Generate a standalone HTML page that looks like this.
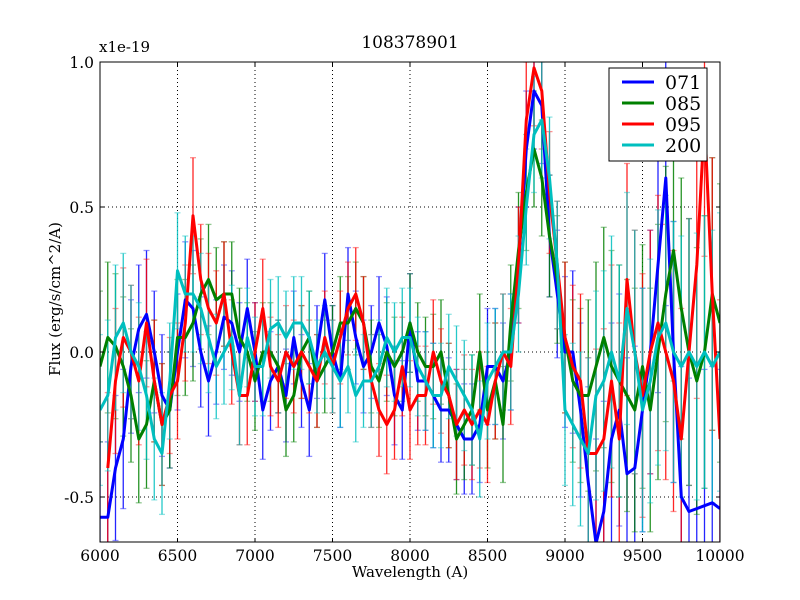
<!DOCTYPE html>
<html><head><meta charset="utf-8"><style>
html,body{margin:0;padding:0;background:#fff;width:800px;height:600px;overflow:hidden;}
#chart{display:block;}
svg text{font-family:"DejaVu Serif","Liberation Serif",serif;}
</style></head><body>
<svg id="chart" width="800" height="600" xmlns="http://www.w3.org/2000/svg">
<rect width="800" height="600" fill="#fff"/>
<g id="grid"></g>
<g id="errs"></g>
<g id="lines"></g>
<g id="axes"></g>
</svg>
<script>
const wavelengths=[];for(let w=6000;w<=10000;w+=50)wavelengths.push(w);
const seriesNames=["071","085","095","200"];
const seriesColors=["#0000ff","#008000","#ff0000","#00bfbf"];
const s071=[-0.57,-0.57,-0.4,-0.3,-0.05,0.08,0.13,0.0,-0.15,-0.2,0.0,0.18,0.15,0.0,-0.1,0.0,0.12,0.1,0.0,0.15,0.0,-0.2,-0.1,-0.05,-0.15,0.05,-0.1,-0.2,0.0,0.18,0.0,-0.1,0.2,0.05,-0.05,0.0,0.1,0.02,-0.15,-0.2,0.1,-0.1,-0.1,-0.15,-0.2,-0.2,-0.25,-0.3,-0.3,-0.25,-0.05,-0.05,-0.1,0.0,0.3,0.7,0.9,0.85,0.4,0.2,0.0,0.0,-0.2,-0.45,-0.66,-0.55,-0.3,-0.2,-0.42,-0.4,-0.2,0.0,0.3,0.6,0.0,-0.5,-0.55,-0.54,-0.53,-0.52,-0.54];
const s085=[-0.05,0.05,0.02,-0.05,-0.15,-0.3,-0.25,-0.1,-0.25,-0.2,0.05,0.05,0.1,0.2,0.25,0.18,0.2,0.2,0.05,0.0,-0.1,0.0,0.0,-0.05,-0.2,-0.15,0.0,0.05,-0.1,-0.05,0.0,0.1,0.1,0.15,0.1,-0.05,-0.1,0.0,-0.05,0.0,0.1,0.0,-0.05,-0.05,0.0,-0.15,-0.3,-0.25,-0.2,0.0,-0.2,-0.1,-0.25,0.1,0.35,0.55,0.7,0.6,0.4,0.25,0.05,-0.1,-0.15,-0.15,-0.05,0.05,-0.05,-0.1,-0.15,-0.2,-0.05,-0.2,0.0,0.2,0.35,0.15,0.0,-0.1,0.0,0.2,0.1];
const s095=[null,-0.4,-0.1,0.05,0.0,-0.1,0.1,-0.1,-0.25,-0.15,-0.1,0.1,0.47,0.25,0.15,0.1,0.2,0.0,-0.15,-0.15,0.0,0.15,-0.05,-0.1,0.0,-0.05,0.0,-0.05,-0.1,0.05,-0.05,0.05,0.15,0.2,0.1,-0.1,-0.2,-0.25,-0.2,-0.05,-0.2,-0.15,-0.15,0.0,-0.1,-0.15,-0.25,-0.2,-0.25,-0.2,-0.25,-0.1,0.0,-0.05,0.3,0.8,0.98,0.9,0.55,0.3,0.05,-0.05,-0.1,-0.35,-0.35,-0.3,-0.1,-0.3,0.25,0.0,-0.15,0.0,0.1,0.0,-0.1,-0.3,0.0,0.3,0.8,0.2,-0.3];
const s200=[-0.2,-0.15,0.05,0.1,0.0,-0.05,-0.15,-0.3,-0.35,-0.1,0.28,0.2,0.2,0.15,0.05,-0.05,0.0,0.05,-0.15,0.05,-0.05,-0.05,0.08,0.1,0.05,0.1,0.1,0.05,-0.05,0.0,-0.05,-0.1,-0.05,-0.15,-0.1,-0.1,-0.05,0.05,0.0,0.05,0.05,-0.05,-0.1,-0.15,-0.15,-0.05,-0.1,-0.15,-0.2,-0.3,-0.1,-0.05,0.0,0.0,0.2,0.5,0.75,0.8,0.6,0.3,-0.2,-0.25,-0.3,-0.35,-0.15,-0.1,0.0,-0.1,0.15,0.0,-0.2,-0.1,0.05,0.1,0.0,-0.05,0.0,-0.05,0.0,-0.05,0.0];
const errSize=[0.26,0.26,0.25,0.24,0.23,0.22,0.22,0.21,0.21,0.2,0.2,0.2,0.2,0.19,0.19,0.18,0.18,0.18,0.17,0.17,0.17,0.17,0.17,0.16,0.16,0.16,0.16,0.16,0.16,0.16,0.16,0.16,0.16,0.16,0.16,0.16,0.16,0.17,0.17,0.17,0.17,0.17,0.17,0.18,0.18,0.18,0.19,0.19,0.19,0.2,0.2,0.2,0.2,0.2,0.2,0.2,0.2,0.2,0.21,0.22,0.26,0.28,0.3,0.33,0.36,0.38,0.4,0.4,0.4,0.42,0.42,0.42,0.44,0.44,0.45,0.45,0.46,0.46,0.47,0.47,0.48];
const seriesData=[s071,s085,s095,s200];
const xTicks=[6000,6500,7000,7500,8000,8500,9000,9500,10000];
const yTicks=[-0.5,0.0,0.5,1.0];
const yTickLabels=["-0.5","0.0","0.5","1.0"];

const L=100,R=720,T=62,B=542;
const xs=v=>L+(v-6000)/4000*(R-L);
const ys=v=>352-v*290;
const cl=y=>Math.max(T,Math.min(B,y));
const NS="http://www.w3.org/2000/svg";
function mk(tag,attrs,parent){const e=document.createElementNS(NS,tag);for(const k in attrs)e.setAttribute(k,attrs[k]);parent.appendChild(e);return e;}
const svg=document.getElementById('chart');
const gGrid=document.getElementById('grid'),gErr=document.getElementById('errs'),gLines=document.getElementById('lines'),gAx=document.getElementById('axes');
const clip=mk('clipPath',{id:'pc'},svg);mk('rect',{x:L,y:T,width:R-L,height:B-T},clip);
gErr.setAttribute('clip-path','url(#pc)');gLines.setAttribute('clip-path','url(#pc)');
xTicks.forEach(t=>{
 if(t>6000&&t<10000){const g=mk('line',{x1:xs(t),x2:xs(t),y1:T,y2:B,stroke:'#000','stroke-dasharray':'1,3'},gGrid);
 }
 const tx=mk('text',{x:xs(t),y:B+19,'text-anchor':'middle','font-size':'15.5'},gAx);tx.textContent=t;
 
 mk('line',{x1:xs(t),x2:xs(t),y1:B,y2:B-4,stroke:'#000'},gAx);mk('line',{x1:xs(t),x2:xs(t),y1:T,y2:T+4,stroke:'#000'},gAx);
});
yTicks.forEach((t,i)=>{
 if(t<1.0){const g=mk('line',{x1:L,x2:R,y1:ys(t),y2:ys(t),stroke:'#000','stroke-dasharray':'1,3'},gGrid);
 }
 const tx=mk('text',{x:L-6,y:ys(t)+6,'text-anchor':'end','font-size':'15.5'},gAx);tx.textContent=yTickLabels[i];
 
 mk('line',{x1:L,x2:L+4,y1:ys(t),y2:ys(t),stroke:'#000'},gAx);mk('line',{x1:R,x2:R-4,y1:ys(t),y2:ys(t),stroke:'#000'},gAx);
});
seriesData.forEach((d,si)=>{
 const c=seriesColors[si];
 d.forEach((v,i)=>{if(v===null)return;const x=xs(wavelengths[i]),e=errSize[i];
  const g=mk('g',{stroke:c,'stroke-width':1.3,opacity:0.85},gErr);
  
  const yt=ys(v+e),yb=ys(v-e);
  mk('line',{x1:x,x2:x,y1:cl(yt),y2:cl(yb)},g);
  if(yt>=T&&yt<=B)mk('line',{x1:x-3,x2:x+3,y1:yt,y2:yt,opacity:0.5},g);
  if(yb>=T&&yb<=B)mk('line',{x1:x-3,x2:x+3,y1:yb,y2:yb,opacity:0.5},g);
 });
});
seriesData.forEach((d,si)=>{
 let p='';d.forEach((v,i)=>{if(v===null)return;p+=(p?'L':'M')+xs(wavelengths[i]).toFixed(1)+','+ys(v).toFixed(1);});
 const pl=mk('path',{d:p,fill:'none',stroke:seriesColors[si],'stroke-width':3,'stroke-linejoin':'round'},gLines);
 
});
const fr=mk('rect',{x:L,y:T,width:R-L,height:B-T,fill:'none',stroke:'#000','stroke-width':1},gAx);

const lg=mk('g',{},gAx);
mk('rect',{x:609,y:68,width:98,height:93,fill:'#fff',stroke:'#000'},lg);
seriesNames.forEach((n,i)=>{const y=82+i*21;
 const e=mk('g',{},lg);
 mk('line',{x1:622,x2:654,y1:y,y2:y,stroke:seriesColors[i],'stroke-width':3},e);
 const t=mk('text',{x:665,y:y+7,'font-size':'19'},e);t.textContent=n;});
</script>
<div style="position:absolute;left:0;top:0;width:800px;height:600px;overflow:hidden;pointer-events:none;font-family:'DejaVu Serif','Liberation Serif',serif;">
<div style="position:absolute;left:20px;width:780px;top:33px;text-align:center;font-size:17px;">108378901</div>
<div style="position:absolute;left:99px;top:38px;font-size:15px;">x1e-19</div>
<div style="position:absolute;left:100px;width:620px;top:563px;text-align:center;font-size:15px;">Wavelength (A)</div>
<div style="position:absolute;left:-55px;top:290px;width:220px;text-align:center;font-size:15px;transform:rotate(-90deg);">Flux (erg/s/cm^2/A)</div>
</div>
</body></html>
